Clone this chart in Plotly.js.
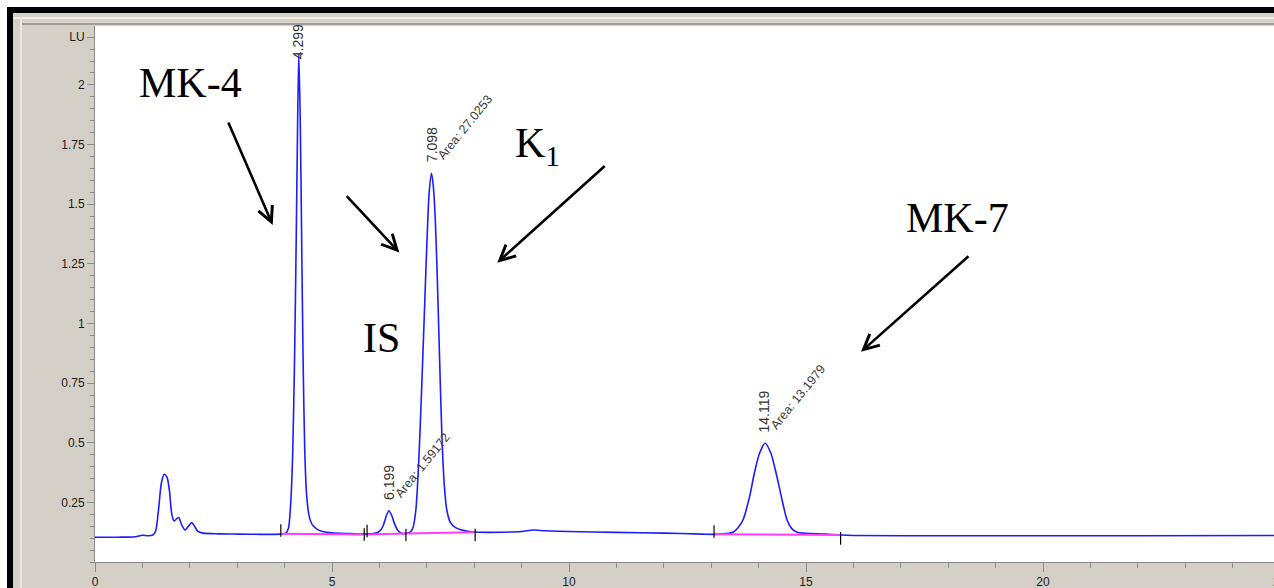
<!DOCTYPE html>
<html>
<head>
<meta charset="utf-8">
<script src="https://cdn.plot.ly/plotly-3.0.1.min.js"></script>
<style>
  html, body { margin:0; padding:0; background:#ffffff; width:1274px; height:588px; overflow:hidden; }
  #blk { position:absolute; left:7px; top:7px; width:1267px; height:581px; background:#000; }
  #chart { position:absolute; left:13px; top:13px; width:1261px; height:575px; }
  .deco { position:absolute; pointer-events:none; }
</style>
</head>
<body>
<div id="blk"></div>
<div id="chart"></div>
<div class="deco" style="left:13px;top:17px;width:1261px;height:2px;background:#efede8;"></div>
<div class="deco" style="left:20px;top:17px;width:2px;height:571px;background:#ebe8e1;"></div>
<div class="deco" style="left:22px;top:23px;width:1252px;height:2px;background:#a29e96;"></div>
<script>
// ---- Chromatogram (fluorescence detector, LU vs min) ----
const time = [0.00,0.50,0.85,1.00,1.12,1.22,1.28,1.34,1.40,1.46,1.52,1.57,1.62,1.67,1.73,1.77,1.83,1.90,1.97,2.04,2.10,2.17,2.28,2.60,3.00,3.50,3.92,4.02,4.08,4.13,4.17,4.21,4.245,4.275,4.30,4.33,4.36,4.39,4.425,4.465,4.52,4.58,4.68,4.80,5.00,5.40,5.70,5.90,6.00,6.08,6.14,6.20,6.26,6.32,6.39,6.47,6.57,6.65,6.71,6.77,6.83,6.89,6.95,7.01,7.05,7.10,7.14,7.18,7.22,7.27,7.32,7.37,7.42,7.50,7.60,7.72,7.90,8.10,8.60,9.00,9.25,9.50,10.0,11.0,12.0,12.8,13.06,13.30,13.46,13.57,13.67,13.81,13.91,14.02,14.14,14.26,14.37,14.48,14.60,14.70,14.81,15.00,15.40,15.73,16.0,18.0,20.0,22.0,25.0];
const signal = [0.104,0.104,0.106,0.112,0.110,0.113,0.130,0.220,0.330,0.368,0.355,0.300,0.200,0.172,0.183,0.186,0.155,0.134,0.150,0.165,0.150,0.128,0.121,0.118,0.117,0.116,0.117,0.120,0.140,0.250,0.450,0.850,1.350,1.850,2.130,1.850,1.350,0.850,0.470,0.280,0.190,0.158,0.138,0.128,0.122,0.119,0.117,0.120,0.128,0.152,0.190,0.215,0.195,0.160,0.132,0.120,0.120,0.125,0.145,0.220,0.420,0.720,1.050,1.380,1.550,1.630,1.570,1.430,1.200,0.850,0.520,0.320,0.220,0.165,0.145,0.135,0.128,0.125,0.125,0.128,0.134,0.131,0.128,0.124,0.121,0.117,0.116,0.119,0.125,0.145,0.176,0.274,0.372,0.456,0.498,0.456,0.372,0.274,0.176,0.140,0.125,0.120,0.117,0.113,0.111,0.110,0.110,0.110,0.111];

// integration baselines (pink) and event marks
const baseX = [3.92,5.70,null,5.74,6.56,8.02,null,13.06,15.73];
const baseY = [0.118,0.115,null,0.115,0.120,0.125,null,0.116,0.113];
const eventX = [3.92,5.68,5.74,6.56,8.02,13.06,15.73];
const eventY = [0.132,0.115,0.130,0.113,0.113,0.128,0.099];

// peak table
const peakRT   = [4.299, 6.199, 7.098, 14.119];
const peakTop  = [2.130, 0.215, 1.630, 0.498];
const peakArea = ['', '1.59172', '27.0253', '13.1979'];
const compound = ['MK-4', 'IS', 'K<sub>1</sub>', 'MK-7'];

// axis ticks
const yTickVals = [0.25,0.5,0.75,1,1.25,1.5,1.75,2,2.2];
const yTickText = ['0.25','0.5','0.75','1','1.25','1.5','1.75','2','LU'];
const xTickVals = [0,5,10,15,20];
const xEnd = 25;

const traces = [
  { x: time, y: signal, type:'scatter', mode:'lines',
    line:{color:'#1c1cff', width:1.6, shape:'spline', smoothing:0.7}, hoverinfo:'skip' },
  { x: baseX, y: baseY, type:'scatter', mode:'lines',
    line:{color:'#ff3cff', width:2}, connectgaps:false, hoverinfo:'skip' },
  { x: eventX, y: eventY, type:'scatter', mode:'markers',
    marker:{symbol:'line-ns', size:9, line:{color:'#000', width:1.2}}, hoverinfo:'skip' }
];

const ann = [];
const tFont = {family:'Liberation Sans, Arial, sans-serif', size:14, color:'#333'};
for (let i = 0; i < peakRT.length; i++) {
  const clampTop = (i === 0);
  ann.push({ x: peakRT[i], y: peakTop[i], xref:'x', yref:'y', text: peakRT[i].toFixed(3),
    showarrow:false, textangle:-90, xanchor:'center', yanchor:'bottom',
    yshift: clampTop ? -7 : 9, font:tFont });
  if (peakArea[i]) {
    ann.push({ x: peakRT[i], y: peakTop[i], xref:'x', yref:'y', text: 'Area: ' + peakArea[i],
      showarrow:false, textangle:-51, xanchor:'left', yanchor:'bottom',
      xshift: 1, yshift: 8, font:{family:'Liberation Sans, Arial, sans-serif', size:12.5, color:'#3a3a3a'} });
  }
}
// compound labels
const lblPos = [[2.025, 2.008], [6.034, 0.939], [9.33, 1.744], [18.19, 1.442]];
const serif = {family:'Liberation Serif, Times New Roman, serif', size:42, color:'#000'};
for (let i = 0; i < compound.length; i++) {
  ann.push({ x: lblPos[i][0], y: lblPos[i][1], xref:'x', yref:'y', text: compound[i],
    showarrow:false, xanchor:'center', yanchor:'middle', font:serif });
}
// arrows: tip (data) and tail offset (px)
const arrows = [[3.749, 1.413, -45, -104], [6.42, 1.297, -54, -58], [8.487, 1.255, 109, -98], [16.16, 0.881, 109, -97]];
arrows.forEach(a => ann.push({ x:a[0], y:a[1], xref:'x', yref:'y', ax:a[2], ay:a[3], text:'',
  showarrow:true, arrowhead:5, arrowsize:1.15, arrowwidth:2.6, arrowcolor:'#000', standoff:0 }));

const axFont = {family:'Liberation Sans, Arial, sans-serif', size:12, color:'#1a1a1a'};
const xMax = (1274 - 95) / 47.4;   // visible part of the 0..25 min window
// tick label of the last (cut) major tick, placed just beyond the visible edge
ann.push({ x: xEnd / xMax, y: 0, xref:'paper', yref:'paper', text: String(xEnd),
  showarrow:false, xanchor:'center', yanchor:'top', yshift:-11, font:axFont });

const layout = {
  width:1261, height:575,
  margin:{l:82, r:0, t:13, b:26, pad:0},
  paper_bgcolor:'#d4d0c8', plot_bgcolor:'#ffffff',
  showlegend:false, hovermode:false,
  xaxis:{ range:[0,xMax], tickmode:'array', tickvals:xTickVals, ticks:'outside', ticklen:9,
    tickcolor:'#8a8a8a', tickwidth:1, showline:true, linecolor:'#8a8a8a', linewidth:1,
    showgrid:false, zeroline:false, tickfont:axFont, fixedrange:true,
    minor:{tick0:0, dtick:1, ticks:'outside', ticklen:5, tickcolor:'#8a8a8a', showgrid:false} },
  yaxis:{ range:[0,2.247], tickmode:'array', tickvals:yTickVals, ticktext:yTickText,
    ticks:'outside', ticklen:7, tickcolor:'#8a8a8a', tickwidth:1, showline:true,
    linecolor:'#8a8a8a', linewidth:1, showgrid:false, zeroline:false, tickfont:axFont, fixedrange:true,
    minor:{tick0:0, dtick:0.05, ticks:'outside', ticklen:4, tickcolor:'#8a8a8a', showgrid:false} },
  annotations: ann
};
Plotly.newPlot('chart', traces, layout, {staticPlot:true, displayModeBar:false});
</script>
</body>
</html>
